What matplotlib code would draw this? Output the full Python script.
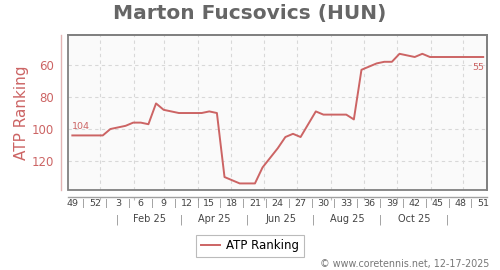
import datetime as dt
import matplotlib
matplotlib.use("Agg")
import matplotlib.pyplot as plt
import matplotlib.transforms as mtransforms
from matplotlib.patches import Rectangle

# ---- data ----
ranking = [104, 104, 104, 104, 104, 100, 99, 98, 96, 96, 97, 84, 88, 89, 90, 90,
           90, 90, 89, 90, 130, 132, 134, 134, 134, 124, 118, 112, 105, 103, 105,
           97, 89, 91, 91, 91, 91, 94, 63, 61, 59, 58, 58, 53, 54, 55, 53, 55,
           55, 55, 55, 55, 55, 55, 55]
week_labels = ['49', '52', '3', '6', '9', '12', '15', '18', '21', '24', '27',
               '30', '33', '36', '39', '42', '45', '48', '51']
month_labels = ['Feb 25', 'Apr 25', 'Jun 25', 'Aug 25', 'Oct 25']
y_ticks = [60, 80, 100, 120]
series_name = 'ATP Ranking'
title = 'Marton Fucsovics (HUN)'
footer = '\u00a9 www.coretennis.net, 12-17-2025'

start_date = dt.date(2024, 12, 2)
RED = '#cc6464'
GRAY_TXT = '#444444'

x = list(range(len(ranking)))

def month_pos(y, m):
    return (dt.date(y, m, 1) - start_date).days / 7.0 - 0.62

month_starts = [month_pos(2025, m) for m in range(1, 13)] + [month_pos(2026, 1)]

fig = plt.figure(figsize=(5, 2.7), dpi=100)
ax = fig.add_axes([0.136, 0.2963, 0.838, 0.5741])
ax.set_facecolor('#fafafa')

ax.plot(x, ranking, color=RED, lw=1.4, label=series_name, solid_joinstyle='round')

ax.set_xlim(-0.57, 54.5)
ax.set_ylim(138.1, 41.25)

# grid
for g in month_starts[:12]:
    ax.axvline(g, color='#d8d8d8', lw=0.8, ls=(0, (3, 3)), zorder=0)
for yv in y_ticks:
    ax.axhline(yv, color='#d8d8d8', lw=0.8, ls=(0, (3, 3)), zorder=0)

# frame
for s in ['top', 'right']:
    ax.spines[s].set_color('#808080')
    ax.spines[s].set_linewidth(1.3)
ax.add_patch(Rectangle((0, 0), 1, 1, transform=ax.transAxes, fill=False,
                       ec='#808080', lw=1.3, clip_on=False, zorder=5))
ax.spines['left'].set_position(('outward', 5))
ax.spines['left'].set_color('#e2b4b4')
ax.spines['left'].set_linewidth(1.0)
ax.spines['bottom'].set_position(('outward', 5))
ax.spines['bottom'].set_color('#a0a0a0')
ax.spines['bottom'].set_linewidth(1.0)

ax.set_yticks(y_ticks)
ax.set_yticklabels([str(v) for v in y_ticks], color=RED, fontsize=8.5)
ax.tick_params(axis='y', length=0, pad=5)
ax.set_ylabel(series_name, color=RED, fontsize=11, labelpad=2)

ax.set_xticks(month_starts[:12])
ax.set_xticklabels([])
ax.tick_params(axis='x', length=2, color='#bbbbbb', direction='out')

trans = mtransforms.blended_transform_factory(ax.transData, fig.transFigure)
wk_y = 1 - 203.5 / 270
mo_y = 1 - 219.5 / 270
for i, lab in enumerate(week_labels):
    fig.text(i * 3, wk_y, lab, transform=trans, ha='center', va='center',
             fontsize=6.8, color=GRAY_TXT)
    if i < len(week_labels) - 1:
        fig.text(i * 3 + 1.5, wk_y, '|', transform=trans, ha='center', va='center',
                 fontsize=6.8, color='#888888')

for k, lab in enumerate(month_labels):
    m = 2 + 2 * k  # Feb, Apr, ...
    c = (month_starts[m - 1] + month_starts[m]) / 2
    fig.text(c, mo_y, lab, transform=trans, ha='center', va='center',
             fontsize=7, color=GRAY_TXT)
for m in [1, 3, 5, 7, 9, 11]:
    c = (month_starts[m - 1] + month_starts[m]) / 2
    fig.text(c, mo_y, '|', transform=trans, ha='center', va='center',
             fontsize=7, color='#888888')

# data labels
ax.annotate(str(ranking[0]), (x[0], ranking[0]), xytext=(0, 3),
            textcoords='offset points', ha='left', va='bottom',
            fontsize=6.8, color=RED)
ax.annotate(str(ranking[-1]), (x[-1], ranking[-1]), xytext=(1, -4),
            textcoords='offset points', ha='right', va='top',
            fontsize=6.8, color=RED)

fig.suptitle(title, x=0.5, y=1 - 13 / 270, va='center', fontsize=14.5,
             fontweight='bold', color='#666666')

leg = fig.legend(loc='center', bbox_to_anchor=(0.5, 1 - 246 / 270),
                 fontsize=8.5, frameon=True, fancybox=False, handlelength=1.6,
                 handletextpad=0.5, borderpad=0.4, edgecolor='#aaaaaa')
leg.get_frame().set_linewidth(0.8)

fig.text(0.978, 1 - 264 / 270, footer, ha='right', va='center',
         fontsize=6.9, color='#777777')

fig.savefig('out.png', dpi=100)
